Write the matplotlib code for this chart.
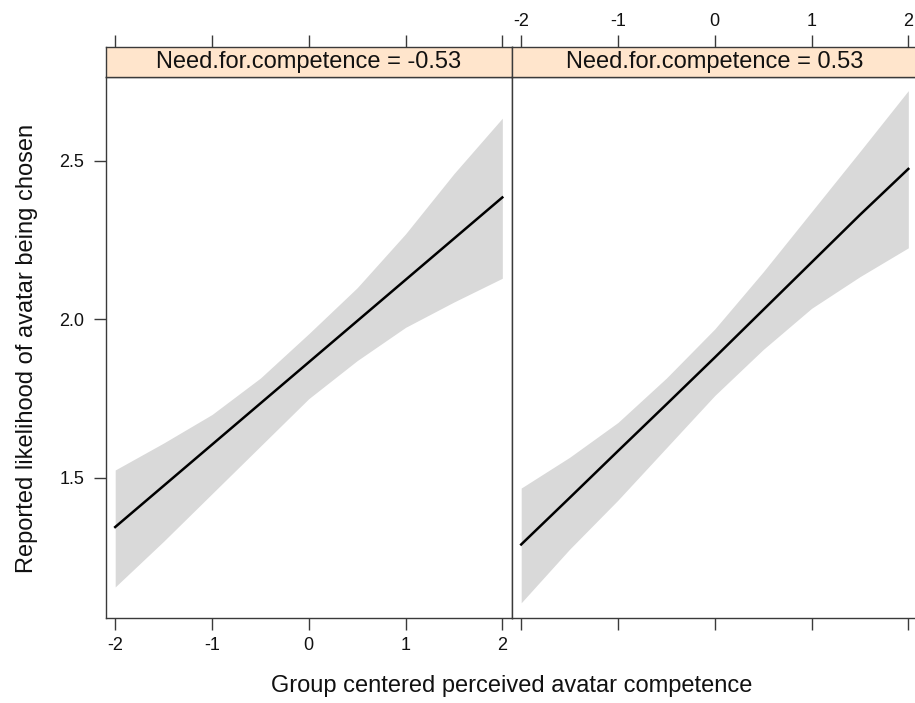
import numpy as np
import matplotlib
matplotlib.use("Agg")
import matplotlib.pyplot as plt

plt.rcParams['font.family'] = ['Liberation Sans', 'DejaVu Sans']

# values, at half-unit steps of the predictor
competence = [-2.0, -1.5, -1.0, -0.5, 0.0, 0.5, 1.0, 1.5, 2.0]
tick_values = [-2, -1, 0, 1, 2]
panel_labels = ["Need.for.competence = -0.53", "Need.for.competence = 0.53"]

fit_low = [1.345, 1.475, 1.605, 1.735, 1.865, 1.995, 2.125, 2.255, 2.385]
upper_low = [1.525, 1.61, 1.70, 1.815, 1.955, 2.10, 2.27, 2.46, 2.635]
lower_low = [1.156, 1.30, 1.45, 1.60, 1.75, 1.87, 1.975, 2.055, 2.13]

fit_high = [1.29, 1.437, 1.585, 1.732, 1.88, 2.03, 2.18, 2.33, 2.475]
upper_high = [1.468, 1.565, 1.675, 1.815, 1.97, 2.15, 2.34, 2.53, 2.722]
lower_high = [1.106, 1.275, 1.43, 1.595, 1.76, 1.905, 2.035, 2.135, 2.226]

fits = [fit_low, fit_high]
uppers = [upper_low, upper_high]
lowers = [lower_low, lower_high]

y_ticks = [1.5, 2.0, 2.5]

W, H = 915, 703
def box(x0, y0, x1, y1):
    # pixel box -> figure fraction
    return [x0 / W, 1 - y1 / H, (x1 - x0) / W, (y1 - y0) / H]

fig = plt.figure(figsize=(W / 100, H / 100), dpi=100)

edge = '#3a3a3a'
xlim = (-2.095, 2.10)
ylim = (1.058, 2.765)
panel_x = [(106, 512), (512, 918)]

for i in range(2):
    x0, x1 = panel_x[i]
    ax = fig.add_axes(box(x0, 77, x1, 618))
    ax.fill_between(competence, lowers[i], uppers[i], color='#d9d9d9', lw=0)
    ax.plot(competence, fits[i], color='black', lw=1.8)
    ax.set_xlim(*xlim)
    ax.set_ylim(*ylim)
    ax.set_xticks(tick_values)
    ax.set_xticklabels([str(v) for v in tick_values])
    ax.set_yticks(y_ticks)
    ax.set_yticklabels(["%.1f" % v for v in y_ticks])
    for s in ax.spines.values():
        s.set_color(edge)
        s.set_linewidth(1.0)
    ax.tick_params(direction='out', length=8.6, width=1.0, color=edge,
                   labelcolor='#111111', labelsize=13)
    ax.tick_params(axis='x', pad=5)
    ax.tick_params(axis='y', pad=7)
    if i == 0:
        ax.tick_params(left=True, right=False, labelleft=True, labelright=False,
                       bottom=True, labelbottom=True, top=False)
    else:
        ax.tick_params(left=False, right=True, labelleft=False, labelright=False,
                       bottom=True, labelbottom=False, top=False)

    # strip on top of each panel
    st = fig.add_axes(box(x0, 47, x1, 77))
    st.set_facecolor('#ffe5cc')
    st.set_xlim(*xlim)
    st.set_ylim(0, 1)
    st.set_yticks([])
    st.xaxis.tick_top()
    st.set_xticks(tick_values)
    st.set_xticklabels([str(v) for v in tick_values])
    for s in st.spines.values():
        s.set_color(edge)
        s.set_linewidth(1.0)
    st.tick_params(axis='x', direction='out', length=8.6, width=1.0, color=edge,
                   labelcolor='#111111', labelsize=13, pad=4,
                   labeltop=(i == 1), bottom=False, labelbottom=False)
    st.text(0.5, 0.5, panel_labels[i], transform=st.transAxes,
            ha='center', va='center', fontsize=17, color='#111111')

fig.text(512 / W, 1 - 686 / H, "Group centered perceived avatar competence",
         ha='center', va='center', fontsize=17, color='#111111')
fig.text(27 / W, 1 - 348 / H, "Reported likelihood of avatar being chosen",
         ha='center', va='center', rotation=90, fontsize=17, color='#111111')

fig.savefig("out.png", dpi=100)
